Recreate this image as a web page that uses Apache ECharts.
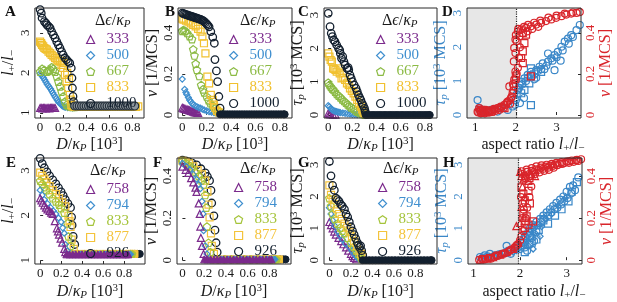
<!DOCTYPE html>
<html><head><meta charset="utf-8">
<script src="https://cdn.jsdelivr.net/npm/echarts@6/dist/echarts.min.js"></script>
<style>html,body{margin:0;padding:0;background:#fff}#c{width:617px;height:302px}</style>
</head><body><div id="c"></div>
<script>
// ---------- DATA ----------
// Panel A : l+/l- vs D/kP [10^3]
const A_333=[[0,1.12],[0.01,1.12],[0.02,1.11],[0.03,1.12],[0.04,1.12],[0.05,1.11],[0.06,1.12],[0.07,1.12],[0.08,1.11],[0.09,1.12],[0.10,1.12],[0.11,1.12],[0.12,1.12],[0.13,1.12]];
const A_500=[[0,1.98],[0.01,1.95],[0.02,1.91],[0.03,1.87],[0.04,1.82],[0.05,1.77],[0.06,1.72],[0.07,1.68],[0.08,1.64],[0.09,1.6],[0.1,1.55],[0.11,1.5],[0.12,1.45],[0.13,1.4],[0.14,1.36],[0.15,1.31],[0.16,1.27],[0.17,1.24],[0.18,1.21],[0.19,1.18],[0.2,1.16],[0.21,1.15],[0.22,1.14],[0.24,1.13],[0.26,1.13],[0.28,1.12]];
const A_667=[[0,2.03],[0.017,2.1],[0.037,2.07],[0.059,2.03],[0.075,2.05],[0.087,2.08],[0.1,2.14],[0.115,2.1],[0.13,2.03],[0.144,1.91],[0.158,1.78],[0.172,1.66],[0.186,1.53],[0.2,1.41],[0.215,1.28],[0.229,1.2],[0.245,1.17],[0.26,1.16],[0.28,1.15],[0.3,1.15]];
const A_833=[[0,2.78],[0.009,2.74],[0.017,2.7],[0.027,2.66],[0.037,2.62],[0.048,2.6],[0.059,2.58],[0.073,2.53],[0.087,2.49],[0.1,2.45],[0.115,2.41],[0.13,2.37],[0.144,2.33],[0.158,2.3],[0.172,2.28],[0.186,2.2],[0.2,2.12],[0.19,2.3],[0.205,2.25],[0.215,1.95],[0.229,1.78],[0.235,2.0],[0.243,1.62],[0.25,1.85],[0.257,1.45],[0.266,1.33],[0.27,1.2],[0.28,1.16],[0.3,1.15],[0.35,1.15],[0.4,1.15],[0.45,1.15],[0.5,1.15],[0.55,1.15],[0.6,1.15],[0.65,1.15],[0.7,1.15],[0.75,1.15],[0.8,1.15],[0.83,1.15],[0.85,1.16]];
const A_1000=[[0,3.58],[0.01,3.49],[0.017,3.37],[0.037,3.28],[0.05,3.24],[0.059,3.2],[0.073,3.16],[0.087,3.12],[0.1,3.03],[0.115,2.95],[0.13,2.87],[0.144,2.78],[0.158,2.7],[0.172,2.62],[0.186,2.53],[0.2,2.45],[0.215,2.37],[0.229,2.33],[0.243,2.28],[0.257,2.24],[0.27,2.12],[0.276,1.87],[0.28,1.62],[0.285,1.41],[0.29,1.28]];
const A_1000_plateau=[[0.30,1.17],[0.32,1.17],[0.34,1.17],[0.36,1.17],[0.38,1.17],[0.40,1.17],[0.42,1.17],[0.44,1.17],[0.46,1.17],[0.48,1.17],[0.50,1.17],[0.52,1.17],[0.54,1.17],[0.56,1.17],[0.58,1.17],[0.60,1.17],[0.62,1.17],[0.64,1.17],[0.66,1.17],[0.68,1.17],[0.70,1.17],[0.72,1.17],[0.74,1.17],[0.76,1.17],[0.78,1.17],[0.80,1.17],[0.82,1.17]];
// Panel B : v [1/MCS]
const B_333=[[0,0.035],[0.01,0.032],[0.02,0.03],[0.03,0.028],[0.04,0.026],[0.05,0.024],[0.06,0.022],[0.07,0.02],[0.08,0.018],[0.09,0.016],[0.1,0.014],[0.11,0.012],[0.12,0.011],[0.13,0.01]];
const B_500=[[0,0.175],[0.02,0.125],[0.03,0.11],[0.037,0.1],[0.05,0.085],[0.06,0.073],[0.07,0.065],[0.08,0.057],[0.09,0.05],[0.107,0.044],[0.12,0.04],[0.135,0.036],[0.15,0.033],[0.165,0.028],[0.18,0.024],[0.2,0.02],[0.22,0.016],[0.24,0.013],[0.26,0.011],[0.28,0.009]];
const B_667=[[0,0.41],[0.01,0.415],[0.025,0.41],[0.04,0.4],[0.06,0.385],[0.08,0.37],[0.09,0.32],[0.1,0.29],[0.11,0.25],[0.12,0.22],[0.14,0.19],[0.155,0.146],[0.17,0.125],[0.18,0.11],[0.2,0.09],[0.215,0.072],[0.23,0.057],[0.25,0.045],[0.27,0.032],[0.29,0.024],[0.31,0.015]];
const B_833=[[0,0.47],[0.01,0.465],[0.03,0.46],[0.05,0.455],[0.07,0.447],[0.09,0.44],[0.11,0.432],[0.13,0.42],[0.15,0.407],[0.165,0.382],[0.178,0.35],[0.19,0.3],[0.206,0.187],[0.22,0.154],[0.234,0.098],[0.25,0.073],[0.26,0.05],[0.27,0.035],[0.285,0.02],[0.3,0.012]];
const B_1000=[[0,0.497],[0.01,0.495],[0.02,0.492],[0.03,0.49],[0.04,0.488],[0.05,0.486],[0.06,0.484],[0.07,0.482],[0.08,0.48],[0.09,0.478],[0.1,0.476],[0.11,0.474],[0.12,0.472],[0.13,0.47],[0.14,0.468],[0.15,0.466],[0.16,0.463],[0.17,0.46],[0.18,0.455],[0.19,0.45],[0.2,0.444],[0.21,0.437],[0.22,0.43],[0.234,0.407],[0.25,0.38],[0.263,0.35],[0.268,0.27],[0.28,0.215],[0.29,0.163],[0.3,0.09],[0.31,0.033]];
const B_1000_plateau=[[0.31,0.003],[0.33,0.003],[0.35,0.003],[0.37,0.003],[0.39,0.003],[0.41,0.003],[0.43,0.003],[0.45,0.003],[0.47,0.003],[0.49,0.003],[0.51,0.003],[0.53,0.003],[0.55,0.003],[0.57,0.003],[0.59,0.003],[0.61,0.003],[0.63,0.003],[0.65,0.003],[0.67,0.003],[0.69,0.003],[0.71,0.003],[0.73,0.003],[0.75,0.003],[0.77,0.003],[0.79,0.003],[0.81,0.003],[0.83,0.003],[0.84,0.003]];
// Panel C : tau_p [10^3 MCS]
const C_333=[[0,0.05],[0.01,0.03],[0.02,0.02],[0.04,0.01],[0.06,0.01]];
const C_500=[[0,0.28],[0.01,0.25],[0.02,0.2],[0.03,0.16],[0.04,0.14],[0.05,0.12],[0.06,0.11],[0.07,0.1],[0.08,0.09],[0.09,0.08],[0.1,0.07],[0.12,0.06],[0.14,0.05],[0.16,0.04],[0.18,0.03],[0.2,0.02],[0.22,0.015],[0.24,0.01]];
const C_667=[[0,0.97],[0.01,0.9],[0.02,0.85],[0.03,0.8],[0.04,0.77],[0.055,0.7],[0.07,0.63],[0.085,0.58],[0.1,0.53],[0.115,0.47],[0.13,0.42],[0.145,0.37],[0.16,0.32],[0.175,0.27],[0.19,0.23],[0.21,0.19],[0.225,0.14],[0.24,0.1],[0.26,0.06],[0.28,0.03],[0.3,0.01]];
const C_833=[[0,1.85],[0.01,1.75],[0.02,1.65],[0.03,1.6],[0.04,1.4],[0.05,1.38],[0.06,1.35],[0.07,1.3],[0.085,1.4],[0.095,1.25],[0.11,1.1],[0.125,1.12],[0.14,1.05],[0.155,0.95],[0.17,0.9],[0.18,0.8],[0.195,0.72],[0.21,0.65],[0.225,0.55],[0.24,0.45],[0.255,0.35],[0.27,0.25],[0.28,0.17],[0.29,0.1],[0.3,0.05]];
const C_1000=[[0,3.05],[0.015,2.65],[0.025,2.45],[0.035,2.35],[0.045,2.25],[0.056,2.2],[0.07,2.1],[0.085,2.0],[0.095,1.95],[0.1,1.85],[0.11,1.7],[0.12,1.75],[0.13,1.6],[0.14,1.5],[0.155,1.4],[0.165,1.42],[0.17,1.35],[0.18,1.2],[0.19,1.1],[0.2,1.0],[0.215,0.9],[0.23,0.8],[0.24,0.7],[0.25,0.6],[0.26,0.52],[0.27,0.45],[0.28,0.35],[0.29,0.28],[0.3,0.2],[0.305,0.12],[0.31,0.05]];
const C_1000_plateau=[[0.31,0.0],[0.33,0.0],[0.35,0.0],[0.37,0.0],[0.39,0.0],[0.41,0.0],[0.43,0.0],[0.45,0.0],[0.47,0.0],[0.49,0.0],[0.51,0.0],[0.53,0.0],[0.55,0.0],[0.57,0.0],[0.59,0.0],[0.61,0.0],[0.63,0.0],[0.65,0.0],[0.67,0.0],[0.69,0.0],[0.71,0.0],[0.73,0.0],[0.75,0.0],[0.77,0.0],[0.79,0.0],[0.81,0.0],[0.83,0.0],[0.84,0.0]];
// Panel D : tau_p (left) and v (right) vs aspect ratio
const D_tau_circ=[[1.1,0.2],[1.18,0.15],[1.26,0.1],[1.39,0.15],[1.55,0.1],[1.63,0.2],[1.8,0.15],[1.92,0.25],[1.06,0.44],[2.0,0.44],[2.05,0.74],[2.09,0.88],[2.13,0.98],[2.21,1.08],[2.29,1.18],[2.37,1.27],[2.5,1.32],[2.58,1.42],[2.66,1.52],[2.79,1.57],[2.87,1.67],[2.95,1.76],[3.03,1.86],[3.12,2.01],[3.2,2.16],[3.28,2.25],[3.36,2.35],[3.49,2.5],[3.57,2.65],[2.79,1.81],[2.95,1.32],[3.1,1.6],[2.45,1.05],[2.7,1.35],
 [2.02,0.6],[2.08,0.8],[2.15,0.9],[2.25,1.0],[2.3,1.1],[2.4,1.15],[2.55,1.3],[2.62,1.35],[2.75,1.45],[2.9,1.6],[3.0,1.7],[3.15,1.9],[3.3,2.1],[3.4,2.3],[2.2,0.5],[2.1,0.35],[1.98,0.3],[2.5,1.1]];
const D_tau_sq=[[2.37,1.37],[2.33,0.93],[2.21,0.74],[2.37,0.29],[2.13,0.64],[2.62,1.27],[2.45,1.2]];
const D_v_circ=[[2.05,0.408],[2.13,0.417],[2.25,0.425],[2.37,0.433],[2.5,0.441],[2.62,0.449],[2.74,0.458],[2.87,0.466],[2.99,0.474],[3.12,0.482],[3.24,0.49],[3.36,0.495],[3.49,0.498],[3.57,0.502],[2.09,0.384],[2.17,0.4],[2.29,0.408],[2.0,0.39],[1.99,0.368],[1.96,0.327],[1.99,0.302],[1.95,0.261],[1.99,0.212],[1.96,0.172],[1.95,0.139],[1.06,0.016],[1.1,0.033],[1.14,0.008],[1.22,0.011],[1.3,0.016],[1.39,0.021],[1.47,0.025],[1.55,0.033],[1.63,0.041],[1.72,0.049],[1.8,0.065],[1.88,0.082],[1.92,0.106],[1.84,0.139],[2.0,0.172],[1.18,0.02],[1.26,0.025],[1.35,0.012],
 [1.08,0.012],[1.12,0.02],[1.16,0.01],[1.2,0.016],[1.24,0.008],[1.28,0.02],[1.32,0.012],[1.36,0.022],[1.42,0.015],[1.46,0.03],[1.5,0.02],[1.58,0.035],[1.6,0.025],[1.66,0.04],[1.7,0.035],[1.76,0.05],[1.78,0.06],[1.84,0.07],[1.86,0.055],[1.9,0.09],[1.94,0.12],
 [1.93,0.15],[2.02,0.2],[2.05,0.23],[2.08,0.28],[2.1,0.33],[2.02,0.36],[2.06,0.42],[2.2,0.43],[2.3,0.44],[2.45,0.45],[2.6,0.46],[2.8,0.475],[3.0,0.485],[3.2,0.495],[3.4,0.5],[2.4,0.42],[2.55,0.43]];
const D_v_sq=[[2.17,0.4],[2.21,0.351],[2.17,0.31],[2.13,0.278],[2.17,0.253],[2.37,0.188],[2.0,0.188],[2.25,0.392],[1.14,0.025],[1.39,0.016],[1.72,0.033]];
// Panel E : l+/l-
const E_758=[[0,2.38],[0.012,2.33],[0.025,2.28],[0.04,2.22],[0.056,2.17],[0.07,2.13],[0.09,2.1],[0.105,2.06],[0.12,2.03],[0.14,1.87],[0.16,1.71],[0.17,1.64],[0.18,1.57],[0.195,1.48],[0.21,1.39],[0.23,1.25],[0.24,1.18]];
const E_794=[[0,2.56],[0.02,2.45],[0.04,2.35],[0.07,2.26],[0.1,2.17],[0.125,2.1],[0.15,2.03],[0.175,1.94],[0.2,1.85],[0.215,1.72],[0.23,1.6],[0.24,1.35],[0.26,1.21]];
const E_833=[[0,2.77],[0.02,2.7],[0.04,2.63],[0.06,2.56],[0.09,2.47],[0.12,2.38],[0.15,2.31],[0.18,2.24],[0.2,2.16],[0.23,2.06],[0.26,1.82],[0.27,1.53],[0.29,1.32]];
const E_877=[[0,2.95],[0.02,2.88],[0.04,2.81],[0.06,2.74],[0.09,2.65],[0.12,2.56],[0.15,2.47],[0.18,2.38],[0.21,2.29],[0.24,2.2],[0.27,1.99],[0.28,1.87],[0.29,1.74],[0.3,1.46],[0.32,1.25]];
const E_926=[[0,3.27],[0.02,3.15],[0.04,3.06],[0.065,2.97],[0.09,2.88],[0.12,2.79],[0.15,2.7],[0.175,2.61],[0.2,2.52],[0.22,2.44],[0.24,2.35],[0.265,2.26],[0.29,2.17],[0.3,1.96],[0.305,1.78],[0.315,1.53],[0.33,1.35]];
const E_758_plateau=[[0.25,1.13],[0.28,1.13],[0.31,1.13],[0.34,1.13],[0.37,1.13],[0.40,1.13],[0.43,1.13],[0.46,1.13],[0.49,1.13],[0.52,1.13],[0.55,1.13],[0.58,1.13],[0.61,1.13],[0.64,1.13],[0.67,1.13],[0.70,1.13],[0.73,1.13],[0.76,1.13],[0.79,1.13],[0.82,1.13],[0.84,1.13]];
const E_794_plateau=[[0.27,1.13],[0.33,1.13],[0.39,1.13],[0.45,1.13],[0.51,1.13],[0.57,1.13],[0.63,1.13],[0.69,1.13],[0.75,1.13],[0.81,1.13],[0.84,1.13],[0.86,1.13]];
const E_833_plateau=[[0.3,1.14],[0.36,1.14],[0.42,1.14],[0.48,1.14],[0.54,1.14],[0.6,1.14],[0.66,1.14],[0.72,1.14],[0.78,1.14],[0.84,1.14],[0.86,1.14],[0.88,1.14]];
const E_877_plateau=[[0.33,1.14],[0.39,1.14],[0.45,1.14],[0.51,1.14],[0.57,1.14],[0.63,1.14],[0.69,1.14],[0.75,1.14],[0.81,1.14],[0.85,1.14],[0.88,1.14],[0.9,1.14]];
const E_926_plateau=[[0.34,1.14],[0.4,1.14],[0.46,1.14],[0.52,1.14],[0.58,1.14],[0.64,1.14],[0.7,1.14],[0.76,1.14],[0.82,1.14],[0.86,1.14],[0.9,1.14],[0.93,1.14],[0.95,1.14]];
// Panel F : v
const F_758=[[0,0.445],[0.03,0.43],[0.055,0.415],[0.08,0.39],[0.1,0.37],[0.12,0.345],[0.13,0.325],[0.15,0.27],[0.16,0.22],[0.165,0.16],[0.17,0.106],[0.18,0.068],[0.195,0.03]];
const F_794=[[0,0.46],[0.035,0.445],[0.07,0.43],[0.1,0.408],[0.13,0.385],[0.15,0.36],[0.165,0.34],[0.18,0.28],[0.19,0.22],[0.195,0.14],[0.21,0.068],[0.226,0.03]];
const F_833=[[0,0.47],[0.03,0.462],[0.06,0.452],[0.087,0.44],[0.12,0.42],[0.15,0.4],[0.175,0.38],[0.195,0.36],[0.21,0.31],[0.22,0.25],[0.226,0.16],[0.24,0.083],[0.257,0.038]];
const F_877=[[0,0.473],[0.03,0.468],[0.06,0.46],[0.1,0.446],[0.14,0.428],[0.18,0.408],[0.21,0.378],[0.23,0.325],[0.24,0.264],[0.25,0.204],[0.263,0.128],[0.27,0.068],[0.29,0.03]];
const F_926=[[0,0.476],[0.03,0.472],[0.06,0.468],[0.09,0.462],[0.13,0.453],[0.17,0.435],[0.21,0.415],[0.23,0.398],[0.25,0.378],[0.263,0.332],[0.27,0.272],[0.29,0.211],[0.3,0.143],[0.31,0.083],[0.32,0.038]];
const F_758_plateau=[[0.2,0.004],[0.23,0.004],[0.26,0.004],[0.29,0.004],[0.32,0.004],[0.35,0.004],[0.38,0.004],[0.41,0.004],[0.44,0.004],[0.47,0.004],[0.5,0.004],[0.53,0.004],[0.56,0.004],[0.59,0.004],[0.62,0.004],[0.65,0.004],[0.68,0.004],[0.71,0.004],[0.74,0.004],[0.77,0.004],[0.8,0.004],[0.82,0.004]];
const F_794_plateau=[[0.24,0.004],[0.3,0.004],[0.36,0.004],[0.42,0.004],[0.48,0.004],[0.54,0.004],[0.6,0.004],[0.66,0.004],[0.72,0.004],[0.78,0.004],[0.82,0.004],[0.85,0.004]];
const F_833_plateau=[[0.27,0.004],[0.33,0.004],[0.39,0.004],[0.45,0.004],[0.51,0.004],[0.57,0.004],[0.63,0.004],[0.69,0.004],[0.75,0.004],[0.81,0.004],[0.84,0.004],[0.87,0.004]];
const F_877_plateau=[[0.3,0.004],[0.36,0.004],[0.42,0.004],[0.48,0.004],[0.54,0.004],[0.6,0.004],[0.66,0.004],[0.72,0.004],[0.78,0.004],[0.83,0.004],[0.86,0.004],[0.89,0.004]];
const F_926_plateau=[[0.33,0.004],[0.39,0.004],[0.45,0.004],[0.51,0.004],[0.57,0.004],[0.63,0.004],[0.69,0.004],[0.75,0.004],[0.81,0.004],[0.86,0.004],[0.9,0.004],[0.93,0.004],[0.95,0.004]];
// Panel G : tau_p
const G_758=[[0,1.2],[0.015,1.1],[0.03,1.0],[0.045,0.9],[0.06,0.8],[0.085,0.7],[0.11,0.6],[0.13,0.5],[0.155,0.4],[0.175,0.3],[0.2,0.2],[0.215,0.13],[0.23,0.07],[0.25,0.03]];
const G_794=[[0,1.65],[0.015,1.45],[0.03,1.25],[0.05,1.08],[0.077,0.9],[0.1,0.77],[0.12,0.65],[0.15,0.52],[0.19,0.4],[0.21,0.3],[0.23,0.2],[0.245,0.13],[0.26,0.07],[0.28,0.03]];
const G_833=[[0,1.95],[0.015,1.7],[0.03,1.45],[0.05,1.3],[0.077,1.15],[0.1,1.02],[0.12,0.93],[0.14,0.85],[0.17,0.7],[0.2,0.55],[0.225,0.42],[0.25,0.3],[0.27,0.2],[0.29,0.1],[0.3,0.04]];
const G_877=[[0,2.35],[0.015,2.05],[0.03,1.9],[0.046,1.75],[0.07,1.6],[0.09,1.45],[0.115,1.3],[0.14,1.15],[0.165,1.02],[0.19,0.9],[0.21,0.75],[0.23,0.6],[0.255,0.45],[0.28,0.3],[0.295,0.2],[0.31,0.1]];
const G_926=[[0,3.1],[0.015,2.65],[0.03,2.35],[0.046,2.2],[0.06,1.95],[0.075,1.9],[0.09,1.85],[0.105,1.75],[0.12,1.7],[0.14,1.6],[0.155,1.45],[0.17,1.35],[0.185,1.2],[0.2,1.05],[0.215,0.92],[0.23,0.8],[0.245,0.68],[0.26,0.55],[0.27,0.47],[0.28,0.4],[0.29,0.45],[0.3,0.3],[0.31,0.15]];
const G_926_plateau=[[0.31,0.0],[0.34,0.0],[0.37,0.0],[0.4,0.0],[0.43,0.0],[0.46,0.0],[0.49,0.0],[0.52,0.0],[0.55,0.0],[0.58,0.0],[0.61,0.0],[0.64,0.0],[0.67,0.0],[0.7,0.0],[0.73,0.0],[0.76,0.0],[0.79,0.0],[0.82,0.0],[0.85,0.0],[0.88,0.0],[0.91,0.0],[0.94,0.0],[0.95,0.0]];
// Panel H : tau_p (left) and v (right) vs aspect ratio
const H_tau_circ=[[2.0,0.35],[2.03,0.55],[2.07,0.65],[2.1,0.75],[2.18,0.9],[2.21,1.0],[2.28,1.1],[2.35,1.2],[2.43,1.3],[2.5,1.4],[2.57,1.5],[2.64,1.6],[2.71,1.7],[2.78,1.8],[2.86,1.9],[2.93,2.0],[3.0,2.15],[3.07,2.3],[3.14,2.35],[3.25,2.6],[1.14,0.1],[1.24,0.15],[1.35,0.2],[1.46,0.15],[1.6,0.2],[1.75,0.3],[1.71,0.45],
 [2.02,0.45],[2.08,0.55],[2.12,0.7],[2.16,0.8],[2.2,0.85],[2.26,0.95],[2.3,1.05],[2.38,1.1],[2.45,1.2],[2.52,1.3],[2.6,1.4],[2.67,1.5],[2.74,1.6],[2.8,1.65],[2.88,1.75],[2.95,1.85],[3.02,1.95],[3.1,2.1],[3.18,2.2],[2.1,0.4],[2.15,0.3],[2.2,0.5],[2.25,0.7],[2.3,0.6],[2.35,0.9],
 [1.2,0.08],[1.3,0.12],[1.42,0.1],[1.55,0.18],[1.68,0.22],[1.8,0.2],[1.9,0.35],[1.95,0.4]];
const H_tau_sq=[[2.1,0.25],[2.25,0.55],[2.35,0.65],[2.21,0.75],[2.6,1.15],[2.75,1.4],[2.89,1.6],[3.04,1.85],[3.11,2.15],[3.22,2.45],[2.5,1.25],[2.4,0.95]];
const H_tau_dia=[[2.18,0.45],[2.28,0.35],[2.43,0.75],[2.32,0.85],[2.46,1.05],[1.85,0.25],[1.92,0.3],[2.15,0.6],[2.55,1.3],[2.68,1.45],[2.82,1.7],[2.97,1.95]];
const H_v_circ=[[2.03,0.423],[2.14,0.431],[2.25,0.438],[2.35,0.446],[2.46,0.451],[2.57,0.454],[2.68,0.458],[2.78,0.463],[2.89,0.466],[3.0,0.469],[3.11,0.474],[3.22,0.477],[3.31,0.48],[2.1,0.4],[2.2,0.41],[2.3,0.42],[2.4,0.43],[2.5,0.435],[2.6,0.44],[2.7,0.448],[2.8,0.452],[2.9,0.458],[3.05,0.463],[3.15,0.468],[3.25,0.472],[1.21,0.005],[1.35,0.011],[1.49,0.023],[1.64,0.031],[1.78,0.046],[1.92,0.069],[2.03,0.115],[2.07,0.138],
 [2.05,0.41],[2.15,0.42],[2.25,0.425],[2.35,0.432],[2.45,0.44],[2.55,0.445],[2.65,0.45],[2.75,0.455],[2.85,0.46],[2.95,0.462],[3.05,0.47],[3.2,0.475],[2.12,0.39],[2.22,0.4],[2.32,0.41],[2.42,0.418],[2.52,0.425],[2.62,0.43],[2.72,0.44],
 [1.12,0.002],[1.18,0.006],[1.25,0.004],[1.31,0.01],[1.38,0.008],[1.45,0.017],[1.52,0.02],[1.6,0.028],[1.67,0.033],[1.74,0.04],[1.81,0.05],[1.88,0.06],[1.95,0.075],[2.0,0.095],
 [2.02,0.3],[2.05,0.27],[2.08,0.24],[2.12,0.2],[2.15,0.25],[2.2,0.3],[2.24,0.35],[2.05,0.2]];
const H_v_tri=[[2.0,0.42],[2.03,0.4],[2.07,0.385],[2.1,0.392],[2.18,0.377],[2.25,0.408],[2.32,0.4],[1.92,0.162],[2.0,0.177],[2.05,0.35],[2.1,0.3],[2.03,0.254],[1.14,0.003],[1.28,0.008],[1.42,0.015],[1.57,0.026],[1.71,0.038],[1.85,0.054],[1.96,0.085]];
const H_v_sq=[[2.07,0.315],[2.1,0.285],[2.07,0.223],[2.14,0.208],[2.1,0.185],[2.18,0.33],[2.21,0.27],[2.03,0.346],[2.2,0.39],[2.28,0.185],[2.18,0.169],[2.1,0.154]];
// legend labels
const legendRow1=['333','500','667','833','1000'];
const legendRow2=['758','794','833','877','926'];

// ---------- STYLE ----------
const SERIF='"Liberation Serif","DejaVu Serif",serif';
const PUR='#7b2a8c',BLU='#3f8fcf',GRN='#8cbb45',YEL='#f1c130',BLK='#13202f',GRN2='#a5c43b',YEL2='#f4c43c';
const TAU='#3a87c8',VRED='#d9252b',GREY='#8e969d';
const SYM={tri:'triangle',dia:'diamond',pent:'path://M0,-10L9.51,-3.09L5.88,8.09L-5.88,8.09L-9.51,-3.09Z',sq:'rect',circ:'circle'};
const RICH={
  i:{fontFamily:SERIF,fontStyle:'italic',fontSize:16,lineHeight:18},
  r:{fontFamily:SERIF,fontSize:16,lineHeight:18},
  sb:{fontFamily:SERIF,fontStyle:'italic',fontSize:11,lineHeight:10,verticalAlign:'bottom'},
  sbr:{fontFamily:SERIF,fontSize:11,lineHeight:10,verticalAlign:'bottom'},
  sp:{fontFamily:SERIF,fontSize:11,lineHeight:10,verticalAlign:'top'}
};
const NAME_L='{i|l}{sbr|+}{r|/}{i|l}{sbr|−}';
const NAME_D='{i|D}{r|/}{i|κ}{sb|P}{r| [10}{sp|3}{r|]}';
const NAME_V='{i|v}{r| [1/MCS]}';
const NAME_T='{i|τ}{sb|p}{r| [10}{sp|3}{r| MCS]}';
const NAME_AR='{r|aspect ratio }{i|l}{sbr|+}{r|/}{i|l}{sbr|−}';
const LEG_T='{r|Δ}{i|ϵ}{r|/}{i|κ}{sb|P}';

const grids=[
 {left:32,top:8,width:112,height:110},{left:178,top:8,width:114,height:110},
 {left:324,top:8,width:113,height:110},{left:467,top:8,width:114,height:110},
 {left:32,top:158,width:113,height:111},{left:177,top:158,width:114,height:111},
 {left:324,top:158,width:113,height:111},{left:468,top:158,width:114,height:111}
].map(g=>Object.assign(g,{show:true,borderColor:'#2a2a2a',borderWidth:1,backgroundColor:'transparent',z:10,containLabel:false}));

function xAx(gi,min,max,split,name,gap){
  return {type:'value',gridIndex:gi,min,max,splitNumber:split,
    axisLine:{show:false},splitLine:{show:false},
    axisTick:{inside:true,length:3,lineStyle:{color:'#2a2a2a'}},
    axisLabel:{fontFamily:SERIF,fontSize:13,color:'#1a1a1a',margin:3,showMinLabel:false,showMaxLabel:false},
    name,nameLocation:'middle',nameGap:gap,nameTextStyle:{rich:RICH,color:'#1a1a1a',padding:name===NAME_AR?[0,0,0,18]:0}};
}
function yAx(gi,min,max,split,name,gap,pos,color){
  return {type:'value',gridIndex:gi,min,max,splitNumber:split,position:pos||'left',
    axisLine:{show:false},splitLine:{show:false},
    axisTick:{inside:true,length:3,lineStyle:{color:'#2a2a2a'}},
    axisLabel:{fontFamily:SERIF,fontSize:13,color:color||'#1a1a1a',margin:3,rotate:90,showMinLabel:false,showMaxLabel:false},
    name,nameLocation:'middle',nameGap:gap,nameRotate:90,nameTextStyle:{rich:RICH,color:color||'#1a1a1a'}};
}
const xAxis=[
 xAx(0,-0.045,0.9,5,NAME_D,18),xAx(1,-0.035,0.9,5,NAME_D,18),xAx(2,-0.035,0.9,5,NAME_D,18),
 xAx(3,0.8,3.6,3,NAME_AR,18),
 xAx(4,-0.05,1.0,5,NAME_D,19),xAx(5,-0.05,1.0,5,NAME_D,19),xAx(6,-0.05,1.0,5,NAME_D,19),
 xAx(7,0.88,3.33,3,NAME_AR,19)
];
const yAxis=[
 yAx(0,0.87,3.62,3,NAME_L,14),yAx(1,-0.015,0.522,3,NAME_V,12),yAx(2,-0.09,3.21,3,NAME_T,11),
 yAx(3,-0.088,3.15,3,NAME_T,9,'left',TAU),yAx(3,-0.015,0.522,3,NAME_V,12,'right',VRED),
 yAx(4,0.915,3.277,3,NAME_L,14),yAx(5,-0.018,0.486,3,NAME_V,12),yAx(6,-0.12,3.21,3,NAME_T,11),
 yAx(7,-0.12,3.21,3,NAME_T,9,'left',TAU),yAx(7,-0.018,0.486,3,NAME_V,12,'right',VRED)
];

function sc(name,data,sym,color,xi,yi,o){
  o=o||{};
  const s={type:'scatter',name,data,symbol:SYM[sym],symbolSize:o.size||7,xAxisIndex:xi,yAxisIndex:yi,
    silent:true,animation:false,emphasis:{disabled:true},
    itemStyle:{color:o.fill||'rgba(0,0,0,0)',borderColor:o.stroke||color,borderWidth:o.bw||1.2,opacity:1}};
  return Object.assign(s,o.extra||{});
}
const FILLED=c=>({fill:c,stroke:c,bw:1});
const series=[
 // A
 sc('a_333',A_333,'tri',PUR,0,0),sc('a_500',A_500,'dia',BLU,0,0,{size:6}),sc('a_667',A_667,'pent',GRN,0,0,{size:7.5}),
 sc('a_833',A_833,'sq',YEL,0,0,{size:7}),sc('a_1000',A_1000,'circ',BLK,0,0,{size:7.5,bw:1.3}),
 sc('a_1000p',A_1000_plateau,'circ',BLK,0,0,{size:8,fill:GREY,stroke:'#25303a',bw:1.2}),
 // B
 sc('a_333',B_333,'tri',PUR,1,1),sc('a_500',B_500,'dia',BLU,1,1,{size:6}),sc('a_667',B_667,'pent',GRN,1,1,{size:7.5}),
 sc('a_833',B_833,'sq',YEL,1,1),sc('a_1000',B_1000,'circ',BLK,1,1,{size:7.5,bw:1.3}),
 sc('b_p',B_1000_plateau,'circ',BLK,1,1,Object.assign({size:7},FILLED(BLK))),
 // C
 sc('a_333',C_333,'tri',PUR,2,2),sc('a_500',C_500,'dia',BLU,2,2,{size:6}),sc('a_667',C_667,'pent',GRN,2,2,{size:7.5}),
 sc('a_833',C_833,'sq',YEL,2,2),sc('a_1000',C_1000,'circ',BLK,2,2,{size:7.5,bw:1.3}),
 sc('c_p',C_1000_plateau,'circ',BLK,2,2,Object.assign({size:7},FILLED(BLK))),
 // D
 sc('d_tc',D_tau_circ,'circ',TAU,3,3,{size:7,extra:{
    markArea:{silent:true,itemStyle:{color:'#e7e7e7'},data:[[{xAxis:0.8},{xAxis:2}]]},
    markLine:{silent:true,symbol:'none',label:{show:false},lineStyle:{type:'dotted',color:'#222',width:1.2},data:[{xAxis:2}]}}}),
 sc('d_ts',D_tau_sq,'sq',TAU,3,3),
 sc('d_vc',D_v_circ,'circ',VRED,3,4),sc('d_vs',D_v_sq,'sq',VRED,3,4),
 // E (purple drawn last)
 sc('e_926p',E_926_plateau,'circ',BLK,4,5,Object.assign({size:7},FILLED(BLK))),
 sc('e_877p',E_877_plateau,'sq',YEL2,4,5,Object.assign({size:7},FILLED(YEL2))),
 sc('e_833p',E_833_plateau,'pent',GRN2,4,5,Object.assign({size:7},FILLED(GRN2))),
 sc('e_794p',E_794_plateau,'dia',BLU,4,5,Object.assign({size:7},FILLED(BLU))),
 sc('e_926',E_926,'circ',BLK,4,5,{size:7.5,bw:1.3}),sc('e_877',E_877,'sq',YEL2,4,5),
 sc('e_833',E_833,'pent',GRN2,4,5,{size:7.5}),sc('e_794',E_794,'dia',BLU,4,5,{size:6}),sc('e_758',E_758,'tri',PUR,4,5),
 sc('e_758p',E_758_plateau,'tri',PUR,4,5,Object.assign({size:7},FILLED(PUR))),
 // F
 sc('f_926p',F_926_plateau,'circ',BLK,5,6,Object.assign({size:7},FILLED(BLK))),
 sc('f_877p',F_877_plateau,'sq',YEL2,5,6,Object.assign({size:7},FILLED(YEL2))),
 sc('f_833p',F_833_plateau,'pent',GRN2,5,6,Object.assign({size:7},FILLED(GRN2))),
 sc('f_794p',F_794_plateau,'dia',BLU,5,6,Object.assign({size:7},FILLED(BLU))),
 sc('e_926',F_926,'circ',BLK,5,6,{size:7.5,bw:1.3}),sc('e_877',F_877,'sq',YEL2,5,6),
 sc('e_833',F_833,'pent',GRN2,5,6,{size:7.5}),sc('e_794',F_794,'dia',BLU,5,6,{size:6}),sc('e_758',F_758,'tri',PUR,5,6),
 sc('f_758p',F_758_plateau,'tri',PUR,5,6,Object.assign({size:7},FILLED(PUR))),
 // G
 sc('e_758',G_758,'tri',PUR,6,7),sc('e_794',G_794,'dia',BLU,6,7,{size:6}),sc('e_833',G_833,'pent',GRN2,6,7,{size:7.5}),
 sc('e_877',G_877,'sq',YEL2,6,7),sc('e_926',G_926,'circ',BLK,6,7,{size:7.5,bw:1.3}),
 sc('g_p',G_926_plateau,'circ',BLK,6,7,Object.assign({size:7},FILLED(BLK))),
 // H
 sc('h_tc',H_tau_circ,'circ',TAU,7,8,{size:7,extra:{
    markArea:{silent:true,itemStyle:{color:'#e7e7e7'},data:[[{xAxis:0.88},{xAxis:1.97}]]},
    markLine:{silent:true,symbol:'none',label:{show:false},lineStyle:{type:'dotted',color:'#222',width:1.2},data:[{xAxis:1.97}]}}}),
 sc('h_ts',H_tau_sq,'sq',TAU,7,8),sc('h_td',H_tau_dia,'dia',TAU,7,8,{size:6}),
 sc('h_vc',H_v_circ,'circ',VRED,7,9),sc('h_vt',H_v_tri,'tri',VRED,7,9),sc('h_vs',H_v_sq,'sq',VRED,7,9)
];

function leg(left,top,prefix,labels,colors){
  return {left,top,orient:'vertical',itemWidth:8,itemHeight:8,itemGap:1,selectedMode:false,
    itemStyle:{borderWidth:1.2},
    formatter:n=>n.split('_')[1],
    textStyle:{fontFamily:SERIF,fontSize:15,lineHeight:15,padding:[0,0,0,7]},
    data:labels.map((l,i)=>({name:prefix+'_'+l,textStyle:{color:colors[i]}}))};
}
const legend=[
 leg(81,27,'a',legendRow1,[PUR,BLU,GRN,YEL,BLK]),
 leg(224,27,'a',legendRow1,[PUR,BLU,GRN,YEL,BLK]),
 leg(371,27,'a',legendRow1,[PUR,BLU,GRN,YEL,BLK]),
 leg(81,177,'e',legendRow2,[PUR,BLU,GRN2,YEL2,BLK]),
 leg(229,175,'e',legendRow2,[PUR,BLU,GRN2,YEL2,BLK]),
 leg(373,175,'e',legendRow2,[PUR,BLU,GRN2,YEL2,BLK])
];
const letters=[['A',5,5],['B',165,5],['C',298,5],['D',442,5],['E',6,156],['F',153,156],['G',298,156],['H',443,156]];
const legTitles=[[95,13],[240,13],[382,13],[90,163],[240,161],[383,161]];
const graphic=[].concat(
 letters.map(l=>({type:'text',left:l[1],top:l[2],z:20,style:{text:l[0],font:'bold 15px '+SERIF,fill:'#111'}})),
 legTitles.map(t=>({type:'text',left:t[0],top:t[1],z:20,style:{text:LEG_T,rich:RICH,fill:'#1a1a1a'}}))
);

const chart=echarts.init(document.getElementById('c'),null,{renderer:'canvas'});
chart.setOption({animation:false,textStyle:{fontFamily:SERIF},grid:grids,xAxis,yAxis,series,legend,graphic});
</script></body></html>
